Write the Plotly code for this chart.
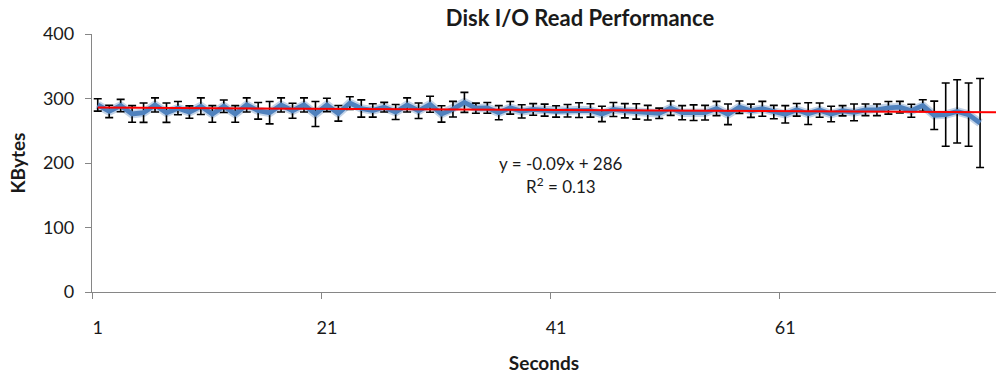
import plotly.graph_objects as go

# Per-second read throughput (KBytes) with its spread
seconds = list(range(1, 79))
kbytes = [
    290, 280, 289, 276, 278, 290, 278, 285, 279, 288,
    276, 288, 276, 290, 281, 278, 290, 281, 290, 276,
    290, 277, 293, 284.5, 281.5, 286.5, 279, 290, 281, 291,
    276, 283.5, 294, 285, 285.5, 278, 285.5, 280, 283, 282,
    280, 281, 282, 281.5, 276, 283, 281, 280, 278, 277,
    285, 278, 278, 278, 284.5, 275.5, 286.5, 281, 284, 279,
    275.5, 282.5, 276.5, 282, 276, 281, 278.5, 282.5, 282.5, 285.5,
    286.5, 281, 289, 274, 275, 280, 275, 262,
]
spread = [
    9.6, 9.6, 9.6, 12.9, 15, 10.9, 15, 10.3, 9.6, 12.9,
    12.9, 9.6, 12.9, 10.9, 12.9, 17.3, 10.9, 11.6, 10.9, 19.4,
    10.3, 12.1, 9.8, 13.4, 10.3, 7.5, 11.6, 10.9, 12.1, 12.4,
    12.7, 12.1, 15.5, 7.8, 8.3, 10.9, 9.8, 10.3, 9, 9.3,
    8.8, 9.6, 11.4, 10.3, 11.9, 10.9, 11.1, 11.9, 11.4, 8,
    11.1, 10.9, 12.1, 11.4, 11.1, 16, 9.6, 10.3, 11.6, 10.3,
    13.4, 9.8, 16.8, 11.1, 12.1, 8, 12.9, 9, 9, 9.8,
    9, 10, 9, 22, 49, 49, 49, 69,
]

# Linear trend  y = -0.09x + 286
slope = -0.09
intercept = 286
r_squared = 0.13
x_lo, x_hi = 0.5, 79.39
trend_x = [1, x_hi]
trend_y = [slope * v + intercept for v in trend_x]

y_ticks = [0, 100, 200, 300, 400]
x_label_vals = [1, 21, 41, 61]
x_label_text = ["1", "21", "41", "61"]

FONT = "Lato"
TXT = "#1a1a1a"
AXIS = "#868686"

fig = go.Figure()

# soft halo under the series line
fig.add_trace(go.Scatter(
    x=seconds, y=kbytes, mode="lines",
    line=dict(color="rgba(79,129,189,0.35)", width=8.5),
    hoverinfo="skip", showlegend=False,
))
fig.add_trace(go.Scatter(
    x=seconds, y=kbytes, mode="lines",
    line=dict(color="#4F81BD", width=4.8),
    error_y=dict(type="data", array=spread, visible=True,
                 color="black", thickness=1.6, width=4),
    name="Read", showlegend=False,
))
fig.add_trace(go.Scatter(
    x=trend_x, y=trend_y, mode="lines",
    line=dict(color="#FF0000", width=2),
    name="Linear trend", showlegend=False,
))

# trend equation label, in plot-area fractions
eq_x = 0.519
fig.add_annotation(
    x=eq_x, y=0.50, xref="paper", yref="paper", yanchor="middle",
    showarrow=False, xanchor="center",
    text=f"y = {slope:g}x + {intercept}", font=dict(family=FONT, size=17, color=TXT),
)
fig.add_annotation(
    x=eq_x, y=0.411, xref="paper", yref="paper", yanchor="middle",
    showarrow=False, xanchor="center",
    text=f"R<sup>2</sup> = {r_squared:g}", font=dict(family=FONT, size=17, color=TXT),
)

fig.update_layout(
    width=996, height=374,
    margin=dict(l=92, r=0, t=34, b=82),
    paper_bgcolor="white", plot_bgcolor="white",
    title=dict(text="<b>Disk I/O Read Performance</b>", x=580 / 996, xanchor="center",
               y=1 - 18 / 374, yanchor="middle",
               font=dict(family=FONT, size=22, color=TXT)),
    font=dict(family=FONT, color=TXT),
    xaxis=dict(
        range=[x_lo, x_hi], showgrid=False, zeroline=False,
        showline=True, linecolor=AXIS, linewidth=1.3,
        tickmode="array", tickvals=x_label_vals, ticktext=x_label_text,
        ticks="", ticklabelstandoff=19,
        tickfont=dict(family=FONT, size=18, color=TXT),
        minor=dict(tickmode="linear", tick0=0.5, dtick=20, ticks="outside",
                   ticklen=6, tickcolor=AXIS, tickwidth=1.3, showgrid=False),
        title=dict(text="<b>Seconds</b>", standoff=21,
                   font=dict(family=FONT, size=19, color=TXT)),
    ),
    yaxis=dict(
        range=[0, 400], showgrid=False, zeroline=False,
        showline=True, linecolor=AXIS, linewidth=1.3,
        tickmode="array", tickvals=y_ticks,
        ticks="outside", ticklen=6, tickcolor=AXIS, tickwidth=1.3,
        ticklabelstandoff=7,
        tickfont=dict(family=FONT, size=18, color=TXT),
        title=dict(text="<b>KBytes</b>", standoff=12,
                   font=dict(family=FONT, size=19, color=TXT)),
    ),
)

fig.write_html("out.html")
